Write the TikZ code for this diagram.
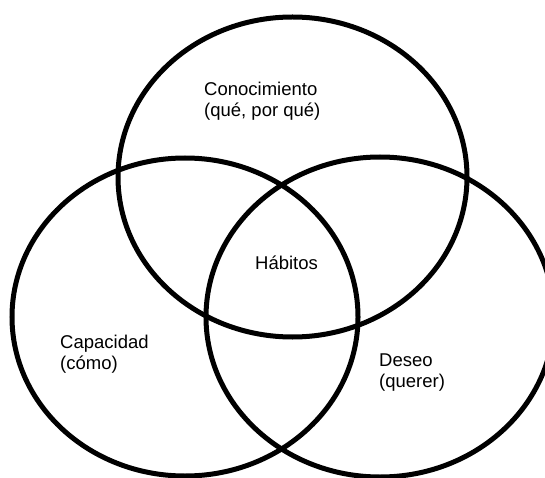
\documentclass[tikz,border=0pt]{standalone}
\usepackage{fontspec}
\setmainfont{Liberation Sans}

\begin{document}
\begin{tikzpicture}[x=1pt,y=-1pt,
    circ/.style={draw=black,line width=5pt},
    lbl/.style={align=left,inner sep=0pt,anchor=west,font=\fontsize{18.5}{21.5}\selectfont}]
\useasboundingbox (0,0) rectangle (545,478);
\clip (0,0) rectangle (545,478);
% centres of the three sets
\coordinate (know) at (292.5,177);
\coordinate (skill) at (185,317);
\coordinate (want) at (380,317);
\draw[circ] (know) ellipse [x radius=174.5,y radius=160];
\draw[circ] (skill) ellipse [x radius=173,y radius=159];
\draw[circ] (want) ellipse [x radius=174,y radius=160];
% labels
\node[lbl] (conoc) at (204,101) {Conocimiento\\(qué, por qué)};
\node[lbl] (habit) at (255,263) {Hábitos};
\node[lbl] (capac) at (60,354) {Capacidad\\(cómo)};
\node[lbl] (deseo) at (379,372.5) {Deseo\\(querer)};
\end{tikzpicture}
\end{document}
